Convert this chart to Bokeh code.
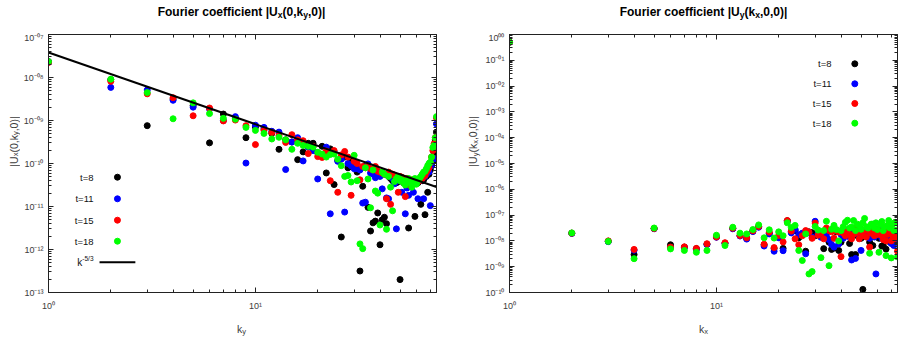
import numpy as np
from bokeh.plotting import figure
from bokeh.layouts import row, column
from bokeh.models import (Range1d, LogAxis, FixedTicker, CustomJSTickFormatter,
                          Label, LinearScale)
from bokeh.embed import file_html
from bokeh.resources import INLINE

# ---------------- data (log10 of the plotted magnitudes) -------------
k = list(range(1, 76))

ux_t8_log10 = [-7.63, -8.05, -9.12, -8.50, -8.65, -9.52, -8.85, -8.95, -9.40, -9.15,
               -9.20, -9.30, -9.67, -9.45, -9.50, -9.91, -9.73, -9.53, -9.53, -9.75,
               -9.60, -10.22, -9.66, -10.49, -9.93, -11.71, -9.85, -10.10, -9.93, -9.96,
               -10.20, -12.50, -10.53, -10.05, -11.02, -11.57, -11.38, -11.34, -11.15, -11.89,
               -11.31, -11.25, -11.40, -10.30, -10.35, -10.40, -10.38, -10.45, -10.42, -12.70,
               -10.35, -10.45, -10.40, -10.38, -11.50, -10.40, -10.42, -10.45, -11.23, -10.40,
               -10.45, -10.35, -10.95, -10.40, -10.38, -11.19, -10.30, -10.67, -10.25, -10.15,
               -10.05, -9.95, -9.75, -9.45, -9.27]
ux_t11_log10 = [-7.64, -8.23, -8.29, -8.53, -8.69, -8.73, -9.00, -8.91, -9.99, -9.11,
                -9.16, -9.25, -9.27, -10.14, -9.50, -9.40, -9.94, -9.62, -9.70, -10.36,
                -9.80, -9.62, -11.17, -9.73, -9.95, -9.90, -11.13, -10.00, -10.05, -10.12,
                -10.12, -10.15, -10.92, -10.90, -10.01, -10.22, -10.25, -10.33, -10.20, -10.30,
                -10.59, -10.25, -10.80, -10.82, -10.30, -10.35, -10.47, -11.52, -10.35, -10.40,
                -10.67, -10.38, -11.17, -10.57, -10.74, -10.45, -10.42, -10.67, -10.40, -10.45,
                -10.82, -10.40, -10.38, -10.35, -10.82, -10.30, -10.25, -10.20, -10.20, -10.98,
                -10.05, -9.90, -9.89, -9.60, -9.08]
ux_t15_log10 = [-7.65, -8.09, -8.38, -8.47, -8.89, -8.71, -9.01, -8.99, -9.12, -9.56,
                -9.23, -9.28, -9.35, -9.51, -9.33, -9.45, -9.47, -9.77, -9.60, -9.84,
                -9.86, -9.71, -10.40, -9.70, -10.67, -9.80, -9.72, -9.85, -10.74, -9.95,
                -10.00, -10.38, -10.07, -10.10, -10.06, -10.12, -10.15, -10.07, -10.18, -10.20,
                -10.22, -10.25, -10.82, -10.20, -10.95, -10.25, -10.28, -10.30, -10.67, -10.30,
                -10.32, -10.35, -10.77, -10.35, -10.40, -10.51, -10.38, -10.42, -10.40, -10.45,
                -10.42, -10.40, -10.38, -10.35, -10.30, -10.28, -10.20, -10.15, -10.10, -9.98,
                -9.85, -9.70, -9.54, -9.40, -8.94]
ux_t18_log10 = [-7.63, -8.04, -8.35, -8.96, -8.59, -8.84, -8.95, -8.97, -9.16, -9.23,
                -9.30, -9.43, -9.39, -9.45, -9.67, -9.53, -9.58, -9.60, -9.62, -9.74,
                -9.78, -9.85, -9.79, -9.78, -9.90, -10.05, -10.30, -10.28, -10.43, -9.81,
                -10.40, -11.87, -11.98, -10.10, -10.36, -11.03, -10.15, -10.64, -10.69, -11.43,
                -10.20, -10.25, -11.53, -10.30, -10.55, -11.10, -10.42, -10.35, -10.30, -10.40,
                -10.38, -10.45, -10.50, -10.40, -10.35, -10.45, -10.55, -10.40, -10.35, -10.48,
                -10.40, -10.35, -10.30, -10.25, -10.20, -10.18, -10.12, -10.05, -10.00, -9.97,
                -9.85, -9.63, -9.58, -9.40, -8.91]

# reference slope k^-5/3 (two end points)
kline = [1, 75]
kline_log10 = [-7.42, -10.545]

uy_t8_log10 = [-0.30, -7.70, -8.01, -8.53, -7.52, -8.15, -8.24, -8.30, -8.13, -7.84,
               -8.09, -7.52, -7.80, -7.90, -7.62, -7.45, -8.15, -7.70, -8.30, -7.85,
               -8.29, -7.22, -7.65, -7.60, -7.88, -7.75, -8.40, -7.65, -7.68, -7.80,
               -7.70, -7.75, -8.30, -7.70, -8.05, -8.33, -8.28, -7.65, -8.37, -8.05,
               -7.85, -7.70, -7.80, -8.10, -8.53, -7.75, -8.53, -7.80, -7.70, -7.90,
               -9.88, -7.82, -7.70, -7.85, -8.05, -7.75, -8.18, -7.80, -7.72, -7.62,
               -7.90, -7.70, -8.20, -8.18, -7.85, -8.32, -7.75, -7.70, -8.05, -8.05,
               -7.80, -7.95, -7.75, -7.85, -7.70]
uy_t11_log10 = [-0.30, -7.71, -8.03, -8.36, -7.53, -8.26, -8.26, -8.33, -8.14, -7.86,
                -8.10, -7.53, -7.81, -7.93, -7.64, -7.47, -8.20, -7.73, -8.40, -7.88,
                -8.38, -7.24, -7.69, -7.55, -7.76, -7.70, -8.50, -7.68, -7.85, -7.24,
                -7.72, -7.86, -7.75, -7.82, -7.95, -8.14, -8.24, -7.60, -8.12, -7.75,
                -7.90, -7.57, -7.82, -7.70, -8.74, -7.60, -8.68, -7.65, -7.82, -8.37,
                -7.70, -7.80, -7.65, -7.60, -7.90, -7.72, -7.60, -7.85, -9.28, -7.75,
                -7.65, -7.60, -7.90, -7.70, -7.80, -7.62, -7.85, -7.60, -7.75, -8.10,
                -7.70, -8.18, -7.80, -7.90, -7.85]
uy_t15_log10 = [-0.30, -7.70, -8.00, -8.33, -7.52, -8.24, -8.23, -8.29, -8.11, -7.85,
                -8.07, -7.51, -7.79, -7.88, -7.61, -7.44, -8.13, -7.66, -8.26, -7.79,
                -8.04, -7.21, -7.62, -7.92, -8.15, -7.80, -7.60, -7.66, -7.90, -7.31,
                -7.78, -7.70, -7.92, -7.50, -7.60, -7.65, -7.90, -7.62, -7.66, -8.61,
                -7.70, -7.80, -7.60, -7.75, -7.92, -7.75, -7.50, -7.68, -7.92, -7.55,
                -7.80, -7.60, -7.85, -7.60, -8.24, -7.70, -7.66, -7.80, -7.55, -7.75,
                -7.62, -7.65, -7.80, -7.95, -7.70, -8.00, -7.75, -7.56, -7.70, -8.00,
                -7.80, -7.92, -7.65, -7.88, -8.40]
uy_t18_log10 = [-0.30, -7.69, -8.02, -8.69, -7.50, -8.31, -8.37, -8.44, -8.37, -7.78,
                -8.18, -7.47, -7.70, -7.73, -7.56, -7.38, -7.88, -7.57, -7.89, -7.65,
                -7.80, -7.30, -7.48, -7.40, -8.37, -8.76, -7.73, -9.28, -9.19, -7.44,
                -7.58, -8.65, -7.60, -7.24, -8.96, -7.55, -7.40, -7.56, -8.00, -7.60,
                -7.45, -7.28, -7.20, -7.50, -7.46, -7.21, -7.60, -7.35, -7.40, -7.55,
                -7.30, -7.13, -7.45, -7.50, -8.48, -7.35, -7.35, -7.50, -7.30, -7.56,
                -8.44, -7.36, -7.25, -7.60, -7.45, -8.57, -7.40, -7.21, -7.50, -8.66,
                -7.35, -7.60, -7.28, -7.58, -8.62]

series_names = ["t=8", "t=11", "t=15", "t=18"]
series_colors = ["#000000", "#0000ff", "#ff0000", "#00ff00"]

# ---------------- helpers ----------------
FONT = "Liberation Sans"
AXC = "#222222"
LBLC = "#3c3c3c"

REG = {'|': 260, 'U': 722, 'x': 500, '(': 333, '0': 556, ',': 278, 'k': 500, 'y': 500,
       ')': 333, 't': 278, '=': 584, '1': 556, '5': 556, '8': 556, '-': 333, '/': 278,
       '3': 556, ' ': 278}
BOLD = {'F': 611, 'o': 611, 'u': 611, 'r': 389, 'i': 278, 'e': 556, ' ': 278, 'c': 556,
        'f': 333, 'n': 611, 't': 333, '|': 280, 'U': 722, '(': 333, ')': 333, '0': 556,
        ',': 278, 'k': 556, 'y': 556, 'x': 556}


def tw(s, size, bold=False):
    tbl = BOLD if bold else REG
    return sum(tbl.get(c, 556) for c in s) * size / 1000.0


def rich(p, pieces, x, y, size, bold=False, color="#000000", align="center",
         rotate=False, baseline="alphabetic", sub_shift=-0.30):
    """pieces: list of (text, kind) with kind 'n', 'sub' or 'sup' (screen units, frame relative)"""
    scale = {"n": 1.0, "sub": 0.72, "sup": 0.65}
    shift = {"n": 0.0, "sub": sub_shift, "sup": 0.42}
    widths = [tw(t, size * scale[kd], bold) for t, kd in pieces]
    total = sum(widths)
    start = {"center": -total / 2, "right": -total, "left": 0}[align]
    pos = start
    for (t, kd), w in zip(pieces, widths):
        s = size * scale[kd]
        d = shift[kd] * size
        if rotate:
            lx, ly, ang = x - d, y + pos, 90
        else:
            lx, ly, ang = x + pos, y + d, 0
        p.add_layout(Label(x=lx, y=ly, x_units="screen", y_units="screen", text=t,
                           angle=ang, angle_units="deg", text_font=FONT,
                           text_font_size=f"{s:.2f}px",
                           text_font_style="bold" if bold else "normal",
                           text_color=color, text_align="left", text_baseline=baseline))
        pos += w


def text_fig(w, h):
    f = figure(width=w, height=h, x_range=Range1d(0, w), y_range=Range1d(0, h),
               x_axis_location=None, y_axis_location=None, title=None,
               output_backend="svg", toolbar_location=None, min_border=0)
    f.xgrid.visible = False
    f.ygrid.visible = False
    f.outline_line_color = None
    return f


def decade_ticks(lo, hi):
    major = [10.0 ** e for e in range(lo, hi + 1)]
    minor = [m * 10.0 ** e for e in range(lo, hi) for m in range(2, 10)]
    return FixedTicker(ticks=major, minor_ticks=minor)


FMT_CODE = """
const sup = {"0":"\u2070","1":"\u00b9","2":"\u00b2","3":"\u00b3","4":"\u2074","5":"\u2075",
             "6":"\u2076","7":"\u2077","8":"\u2078","9":"\u2079","-":"\u207b"};
const e = Math.round(Math.log10(tick));
let s = String(Math.abs(e));
if (pad) { s = s.padStart(2, "0"); }
if (e < 0) { s = "-" + s; }
return "10" + s.split("").map(c => sup[c]).join("");
"""


def style_axis(ax, ticker, pad, show, standoff=5):
    ax.ticker = ticker
    ax.formatter = CustomJSTickFormatter(args=dict(pad=pad), code=FMT_CODE)
    ax.major_tick_in = 5
    ax.major_tick_out = 0
    ax.minor_tick_in = 3
    ax.minor_tick_out = 0
    ax.axis_line_color = AXC
    ax.major_tick_line_color = AXC
    ax.minor_tick_line_color = AXC
    ax.major_label_text_font = FONT
    if show:
        ax.major_label_text_color = LBLC
        ax.major_label_text_font_size = "9px"
        ax.major_label_standoff = standoff
    else:
        ax.major_label_text_color = None
        ax.major_label_text_font_size = "0px"
        ax.major_label_standoff = 0


BT, FH, BB = 2, 258, 22
MAIN_H = BT + FH + BB


def make_main(width, bl, br, yrange, ydec, data, legend_cfg, with_line):
    FW = width - bl - br
    p = figure(width=width, height=MAIN_H, x_axis_type="log", y_axis_type="log",
               x_range=Range1d(1, 75), y_range=Range1d(*yrange), title=None,
               output_backend="svg", toolbar_location=None,
               min_border_left=bl, min_border_right=br, min_border_top=BT,
               min_border_bottom=BB)
    p.xgrid.visible = False
    p.ygrid.visible = False
    p.outline_line_color = AXC
    p.outline_line_width = 1

    style_axis(p.xaxis[0], decade_ticks(0, 2), False, True, standoff=8)
    style_axis(p.yaxis[0], decade_ticks(*ydec), True, True, standoff=5)
    top = LogAxis()
    style_axis(top, decade_ticks(0, 2), False, False)
    p.add_layout(top, "above")
    right = LogAxis()
    style_axis(right, decade_ticks(*ydec), True, False)
    p.add_layout(right, "right")

    for vals, col in zip(data, series_colors):
        p.scatter(k, 10.0 ** np.array(vals), size=6, marker="circle",
                  fill_color=col, line_color=col)
    if with_line:
        p.line(kline, 10.0 ** np.array(kline_log10), line_color="black", line_width=2)

    # pixel-space ranges for the legend keys
    p.extra_x_ranges = {"px": Range1d(0, FW)}
    p.extra_y_ranges = {"px": Range1d(0, FH)}
    p.extra_x_scales = {"px": LinearScale()}
    p.extra_y_scales = {"px": LinearScale()}
    tx, mx, ys = legend_cfg
    p.scatter([mx] * 4, ys[:4], size=6, marker="circle", fill_color=series_colors,
              line_color=series_colors, x_range_name="px", y_range_name="px")
    for name, yy in zip(series_names, ys[:4]):
        p.add_layout(Label(x=tx, y=yy, x_units="screen", y_units="screen", text=name,
                           text_font=FONT, text_font_size="9.5px", text_color="#111111",
                           text_align="right", text_baseline="middle"))
    if with_line:
        yk = ys[4]
        p.line([mx - 18, mx + 18], [yk, yk], line_color="black", line_width=2,
               x_range_name="px", y_range_name="px")
        rich(p, [("k", "n"), ("-5/3", "sup")], tx, yk, 10, color="#111111",
             align="right", baseline="middle")
    return p


# ---------------- panels ----------------
# horizontal layout (px): ylab1 20 | main1 441 (frame 46..436) | ylab2 20 | main2 419 (frame 509..897)
m1 = make_main(441, 26, 25, (1e-13, 1e-7), (-13, -7),
               [ux_t8_log10, ux_t11_log10, ux_t15_log10, ux_t18_log10],
               (45.0, 69.3, [115.3, 93.7, 72.3, 51.3, 30.3]), True)
m2 = make_main(419, 28, 3, (1e-10, 1.0), (-10, 0),
               [uy_t8_log10, uy_t11_log10, uy_t15_log10, uy_t18_log10],
               (322.0, 345.3, [228.7, 208.7, 189.0, 169.3]), False)

TH, XH = 32, 339 - 32 - MAIN_H
t1 = text_fig(461, TH)
rich(t1, [("Fourier coefficient |U", "n"), ("x", "sub"), ("(0,k", "n"), ("y", "sub"),
          (",0)|", "n")], 241, 21, 12, bold=True)
t2 = text_fig(439, TH)
rich(t2, [("Fourier coefficient |U", "n"), ("y", "sub"), ("(k", "n"), ("x", "sub"),
          (",0,0)|", "n")], 242, 21, 12, bold=True)

YC = MAIN_H - (BT + FH / 2)
yl1 = text_fig(20, MAIN_H)
rich(yl1, [("|U", "n"), ("x", "sub"), ("(0,k", "n"), ("y", "sub"), (",0)|", "n")],
     13.0, YC, 10.5, color=LBLC, rotate=True, sub_shift=-0.22)
yl2 = text_fig(20, MAIN_H)
rich(yl2, [("|U", "n"), ("y", "sub"), ("(k", "n"), ("x", "sub"), (",0,0)|", "n")],
     11.5, YC, 10.5, color=LBLC, rotate=True, sub_shift=-0.22)

x1 = text_fig(461, XH)
rich(x1, [("k", "n"), ("y", "sub")], 241, XH - 14, 10.5, color=LBLC)
x2 = text_fig(439, XH)
rich(x2, [("k", "n"), ("x", "sub")], 242, XH - 14, 10.5, color=LBLC)

layout = column(row(t1, t2), row(yl1, m1, yl2, m2), row(x1, x2))
open("out.html", "w").write(file_html(layout, INLINE))
